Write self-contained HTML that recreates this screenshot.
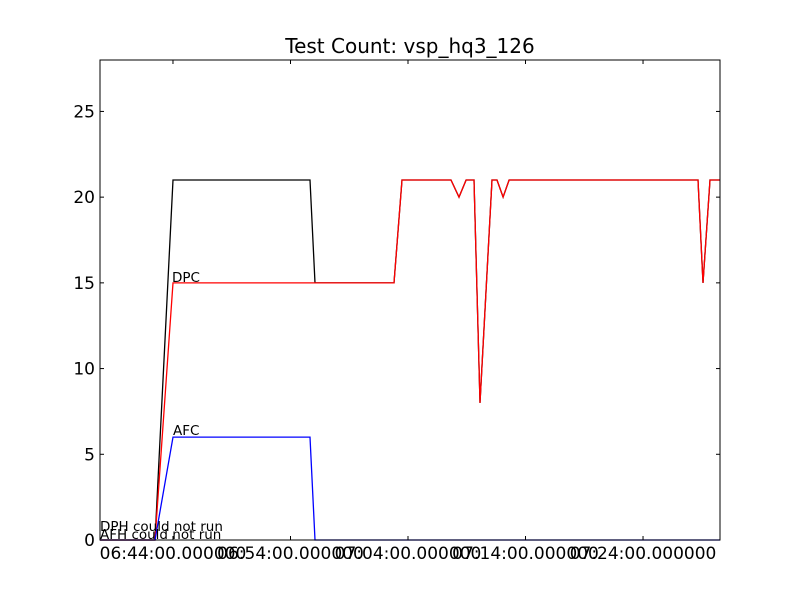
<!DOCTYPE html>
<html><head><meta charset="utf-8"><style>
body{margin:0;background:#fff}
svg text{font-family:"DejaVu Sans","Liberation Sans",sans-serif}
</style></head><body>
<svg id="chart" width="800" height="600" xmlns="http://www.w3.org/2000/svg">
<rect width="800" height="600" fill="#fff"/>
<text x="410" y="53" font-size="20" text-anchor="middle">Test Count: vsp_hq3_126</text>
<g id="marks"></g>
<rect x="100" y="60" width="620" height="480" fill="none" stroke="#000" stroke-width="1"/>
<g id="axes"></g>
</svg>
<script>
// minutes relative to 06:44:00
const times = [-6.21,-1.53,0,11.66,12.09,18.81,19.49,23.66,24.34,24.94,25.62,26.13,27.15,27.57,28.09,28.6,44.68,45.1,45.7,46.55];
const seriesBlack = [0,0,21,21,15,15,21,21,20,21,21,8,21,21,20,21,21,15,21,21];
const seriesDPC = [0,0,15,15,15,15,21,21,20,21,21,8,21,21,20,21,21,15,21,21];
const seriesAFC = [0,0,6,6,0,0,0,0,0,0,0,0,0,0,0,0,0,0,0,0];
const yTicks = [0,5,10,15,20,25];
const xTicks = [0,10,20,30,40];
const xTickLabels = ["06:44:00.000000","06:54:00.000000","07:04:00.000000","07:14:00.000000","07:24:00.000000"];
const xMin=-6.21, xMax=46.55, yMin=0, yMax=28;
const X=v=>100+(v-xMin)/(xMax-xMin)*620;
const Y=v=>540-(v-yMin)/(yMax-yMin)*480;
const NS="http://www.w3.org/2000/svg";
const marks=document.getElementById('marks'), axes=document.getElementById('axes');
function mk(tag,attrs,parent){const e=document.createElementNS(NS,tag);for(const k in attrs)e.setAttribute(k,attrs[k]);parent.appendChild(e);return e;}
function line(vals,color,name){
  const p=mk('polyline',{points:vals.map((v,i)=>X(times[i]).toFixed(1)+','+Y(v).toFixed(1)).join(' '),fill:'none',stroke:color,'stroke-width':1.3},marks);
  
  
}
line(seriesBlack,'#000','series-total-line');
line(seriesDPC,'#ff0000','series-dpc-line');
line(seriesAFC,'#0000ff','series-afc-line');
yTicks.forEach(v=>{
  const y=Y(v);
  mk('line',{x1:100,x2:104,y1:y,y2:y,stroke:'#000'},axes);
  mk('line',{x1:716,x2:720,y1:y,y2:y,stroke:'#000'},axes);
  const t=mk('text',{x:95,y:y+6,'font-size':17,'text-anchor':'end'},axes);t.textContent=v;
  
  
});
xTicks.forEach((v,i)=>{
  const x=X(v);
  mk('line',{x1:x,x2:x,y1:540,y2:536,stroke:'#000'},axes);
  mk('line',{x1:x,x2:x,y1:60,y2:64,stroke:'#000'},axes);
  const t=mk('text',{x:x,y:559,'font-size':17,'text-anchor':'middle'},axes);t.textContent=xTickLabels[i];
  
  
});
const ann=[["DPC",X(0)-1,Y(15)-1],["AFC",X(0),Y(6)-2],["DPH could not run",100,531],["AFH could not run",100,539]];
ann.forEach(a=>{
  const t=mk('text',{x:a[1],y:a[2],'font-size':13.5},axes);t.textContent=a[0];
  
  
});
</script>
</body></html>
